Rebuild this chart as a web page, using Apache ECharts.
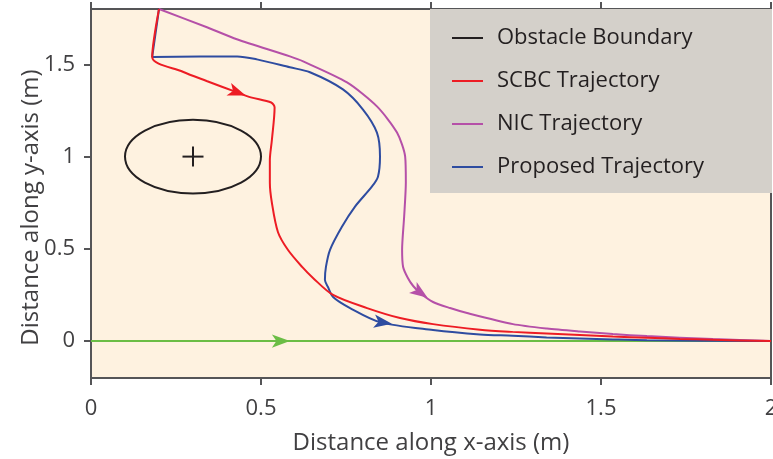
<!DOCTYPE html>
<html>
<head>
<meta charset="utf-8">
<script src="https://cdn.jsdelivr.net/npm/echarts@6/dist/echarts.min.js"></script>
<style>
  html, body { margin: 0; padding: 0; background: #ffffff; }
  #chart { width: 773px; height: 459px; }
</style>
</head>
<body>
<div id="chart"></div>
<script>
// Trajectory samples, [x, y] in metres
const scbcPath = [
  [0.2, 1.8], [0.18, 1.54], [0.27, 1.46], [0.34, 1.41], [0.43, 1.348], [0.47, 1.321],
  [0.53, 1.293], [0.54, 1.266], [0.532, 1.09], [0.526, 0.98], [0.526, 0.86], [0.532, 0.75],
  [0.55, 0.59], [0.579, 0.495], [0.621, 0.402], [0.653, 0.342], [0.712, 0.25], [0.812, 0.179],
  [0.909, 0.125], [1.006, 0.092], [1.144, 0.062], [1.24, 0.05], [1.34, 0.041], [1.438, 0.033],
  [1.535, 0.025], [1.635, 0.018], [1.732, 0.012], [1.829, 0.007], [2.0, 0]
];
const nicPath = [
  [0.2, 1.8], [0.341, 1.701], [0.429, 1.636], [0.585, 1.543], [0.624, 1.516], [0.753, 1.402],
  [0.841, 1.272], [0.9, 1.13], [0.924, 1.0], [0.926, 0.859], [0.921, 0.674], [0.915, 0.495],
  [0.918, 0.402], [0.932, 0.342], [0.947, 0.3], [0.968, 0.261], [1.006, 0.212], [1.056, 0.179],
  [1.106, 0.152], [1.241, 0.092], [1.341, 0.068], [1.438, 0.052], [1.535, 0.038], [1.635, 0.027],
  [1.829, 0.011], [2.0, 0]
];
const proposedPath = [
  [0.2, 1.8], [0.18, 1.54], [0.43, 1.543], [0.488, 1.527], [0.585, 1.484], [0.644, 1.457],
  [0.741, 1.364], [0.8, 1.255], [0.841, 1.13], [0.85, 1.0], [0.844, 0.891], [0.826, 0.837],
  [0.776, 0.728], [0.738, 0.62], [0.703, 0.495], [0.691, 0.402], [0.688, 0.332], [0.697, 0.293],
  [0.712, 0.239], [0.762, 0.179], [0.85, 0.103], [1.006, 0.06], [1.144, 0.036], [1.24, 0.029],
  [1.34, 0.02], [1.438, 0.014], [1.535, 0.009], [1.635, 0.005], [2.0, 0]
];
const referencePath = [[0, 0], [2, 0]];

// Obstacle: centre x, centre y, radius (m)
const obstacle = [0.3, 1.0, 0.2];

// Where each direction arrowhead sits along its path
const scbcArrow = [0.455, 1.331];
const nicArrow = [0.99, 0.235];
const proposedArrow = [0.885, 0.094];
const referenceArrow = [0.585, 0];

// Axis ticks
const xTicks = [0, 0.5, 1, 1.5, 2];
const yTicks = [0, 0.5, 1, 1.5];

const legendNames = ['Obstacle Boundary', 'SCBC Trajectory', 'NIC Trajectory', 'Proposed Trajectory'];

const FONT = '"Open Sans", "Noto Sans", sans-serif';
const AXIS = '#555557';
const INK = '#414042';
const COLORS = {
  obstacle: '#231F20',
  scbc: '#ED1C24',
  nic: '#B550A8',
  proposed: '#2E4CA0',
  reference: '#6BBD45'
};

const chart = echarts.init(document.getElementById('chart'));

function arrowMark(rotation, at) {
  return {
    symbol: 'arrow',
    symbolSize: [10, 18],
    label: { show: false },
    silent: true,
    animation: false,
    data: [{ coord: at, symbolRotate: rotation }]
  };
}

function lineSeries(name, path, color, smooth, rotation, at, legend) {
  return {
    name: name,
    type: 'line',
    data: path,
    symbol: 'none',
    smooth: smooth,
    clip: true,
    color: color,
    itemStyle: { color: color },
    lineStyle: { color: color, width: 2 },
    markPoint: arrowMark(rotation, at),
    z: legend ? 3 : 2
  };
}

function buildOption(rot) {
  return {
    animation: false,
    textStyle: { fontFamily: FONT },
    grid: {
      left: 91, right: 2, top: 9, bottom: 81,
      outerBoundsMode: 'none',
      containLabel: false,
      show: true, backgroundColor: '#FEF2E0',
      borderColor: AXIS, borderWidth: 2
    },
    graphic: [{
      type: 'rect',
      left: 430, top: 9,
      shape: { width: 342, height: 184 },
      style: { fill: '#D4D0CA' },
      z: 3
    }],
    legend: {
      orient: 'vertical',
      left: 452, top: 25,
      padding: 0,
      itemGap: 17,
      itemWidth: 31, itemHeight: 2,
      icon: 'rect',
      data: legendNames,
      z: 10,
      textStyle: {
        fontFamily: FONT, fontSize: 22, color: '#231F20',
        lineHeight: 26, padding: [0, 0, 0, 9]
      }
    },
    xAxis: [{
      type: 'value', min: 0, max: 2,
      name: 'Distance along x-axis (m)',
      nameLocation: 'middle', nameGap: 53,
      nameTextStyle: { fontFamily: FONT, fontSize: 24, color: INK },
      axisLine: { show: true, onZero: false, lineStyle: { color: AXIS, width: 2 } },
      axisTick: { show: true, inside: false, length: 7, customValues: xTicks, lineStyle: { color: AXIS, width: 2 } },
      axisLabel: { fontFamily: FONT, fontSize: 22, color: INK, margin: 20, customValues: xTicks, showMaxLabel: true, showMinLabel: true, hideOverlap: false },
      splitLine: { show: false }
    }, {
      type: 'value', min: 0, max: 2, position: 'top',
      axisLine: { show: true, onZero: false, lineStyle: { color: AXIS, width: 2 } },
      axisTick: { show: true, inside: false, length: 7, customValues: xTicks, lineStyle: { color: AXIS, width: 2 } },
      axisLabel: { show: false },
      splitLine: { show: false }
    }],
    yAxis: [{
      type: 'value', min: -0.2, max: 1.8,
      name: 'Distance along y-axis (m)',
      nameLocation: 'middle', nameGap: 48, nameRotate: 90,
      nameMoveOverlap: false,
      nameTextStyle: { fontFamily: FONT, fontSize: 24, color: INK, padding: [0, 28, 0, 0] },
      axisLine: { show: true, onZero: false, lineStyle: { color: AXIS, width: 2 } },
      axisTick: { show: true, inside: false, length: 7, customValues: yTicks, lineStyle: { color: AXIS, width: 2 } },
      axisLabel: { fontFamily: FONT, fontSize: 22, color: INK, margin: 16, customValues: yTicks },
      splitLine: { show: false }
    }],
    series: [
      {
        name: 'Obstacle Boundary',
        type: 'custom',
        coordinateSystem: 'cartesian2d',
        itemStyle: { color: COLORS.obstacle },
        data: [obstacle],
        encode: { x: 0, y: 1 },
        silent: true,
        renderItem: function (params, api) {
          const c = api.coord([api.value(0), api.value(1)]);
          const r = api.value(2);
          const s = api.size([r, r]);
          const stroke = { fill: 'none', stroke: COLORS.obstacle, lineWidth: 2 };
          return {
            type: 'group',
            children: [
              { type: 'ellipse', shape: { cx: c[0], cy: c[1], rx: s[0], ry: s[1] }, style: stroke },
              { type: 'line', shape: { x1: c[0] - 10.5, y1: c[1], x2: c[0] + 10.5, y2: c[1] }, style: stroke },
              { type: 'line', shape: { x1: c[0], y1: c[1] - 10, x2: c[0], y2: c[1] + 10 }, style: stroke }
            ]
          };
        },
        z: 3
      },
      lineSeries('Reference', referencePath, COLORS.reference, false, rot.reference, referenceArrow, false),
      lineSeries('NIC Trajectory', nicPath, COLORS.nic, 0.25, rot.nic, nicArrow, true),
      lineSeries('Proposed Trajectory', proposedPath, COLORS.proposed, 0.3, rot.proposed, proposedArrow, true),
      lineSeries('SCBC Trajectory', scbcPath, COLORS.scbc, 0.3, rot.scbc, scbcArrow, true)
    ]
  };
}

// Heading of a path at a point, measured on screen through the chart's own scales
function headingAt(path, at) {
  const px = path.map(p => chart.convertToPixel({ gridIndex: 0 }, p));
  const q = chart.convertToPixel({ gridIndex: 0 }, at);
  let best = 0, bestD = Infinity;
  for (let i = 0; i < px.length - 1; i++) {
    const a = px[i], b = px[i + 1];
    const dx = b[0] - a[0], dy = b[1] - a[1];
    const len2 = dx * dx + dy * dy || 1;
    let t = ((q[0] - a[0]) * dx + (q[1] - a[1]) * dy) / len2;
    t = Math.max(0, Math.min(1, t));
    const ex = a[0] + t * dx - q[0], ey = a[1] + t * dy - q[1];
    const d = ex * ex + ey * ey;
    if (d < bestD) { bestD = d; best = i; }
  }
  const a = px[best], b = px[best + 1];
  return Math.atan2(-(b[1] - a[1]), b[0] - a[0]) * 180 / Math.PI - 90;
}

const zeroRot = { scbc: 0, nic: 0, proposed: 0, reference: 0 };
chart.setOption(buildOption(zeroRot));
const rot = {
  scbc: headingAt(scbcPath, scbcArrow),
  nic: headingAt(nicPath, nicArrow),
  proposed: headingAt(proposedPath, proposedArrow),
  reference: headingAt(referencePath, referenceArrow)
};
chart.setOption(buildOption(rot), true);
</script>
</body>
</html>
